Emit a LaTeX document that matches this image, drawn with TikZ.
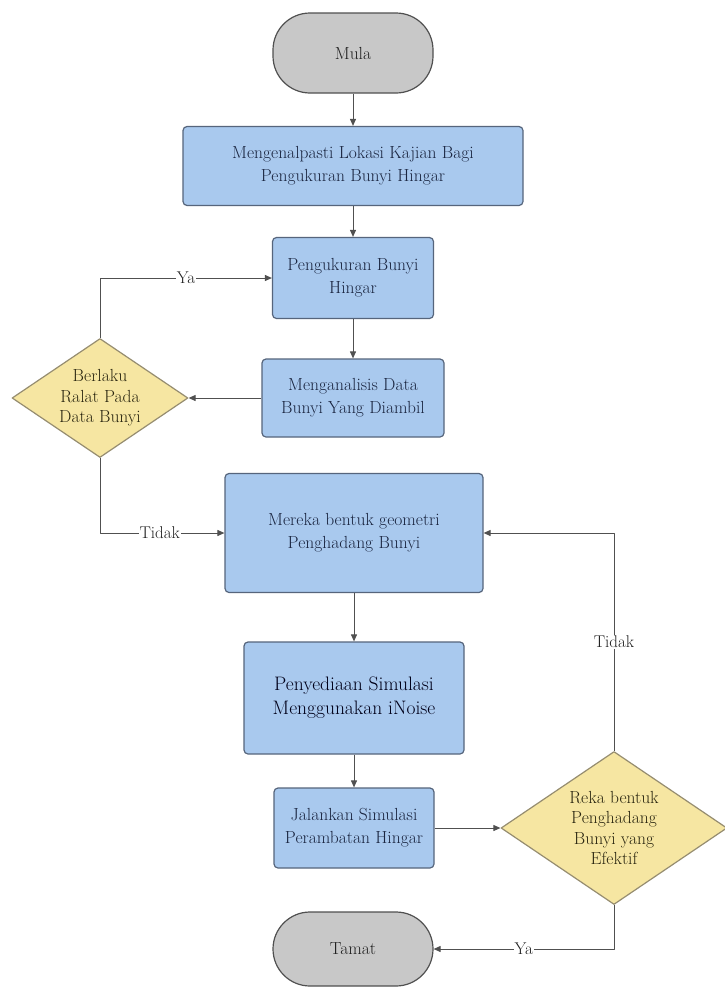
\documentclass[tikz,border=0pt]{standalone}
\usepackage{fontspec}
\usepackage{tikz}
\usetikzlibrary{shapes.geometric,arrows.meta}
\usepackage{color}

\begin{document}
\begin{tikzpicture}
	[x=1pt,y=-1pt,line join=round,
	%Styles
	base/.style={draw=boxline,line width=1.2pt,align=center,inner sep=2pt,
		font=\fontsize{17.5}{23}\selectfont},
	terminal/.style={base,fill=termfill,draw=termline,rounded corners=37pt,
		minimum width=160pt,text=textgrey},
	process/.style={base,fill=procfill,rounded corners=4pt,text=textblue},
	decision/.style={base,diamond,fill=decfill,draw=decline,inner sep=0pt,
		aspect=1.48,text=textolive,font=\fontsize{17.5}{20.5}\selectfont},
	line/.style={draw=linegrey,line width=1pt,->,>={Triangle[length=7pt,width=6pt]}},
	answer/.style={fill=white,inner sep=1pt,text=textgrey,
		font=\fontsize{17}{18}\selectfont}
	]

	%Colors
	\definecolor{procfill}{HTML}{A9C9EE}
	\definecolor{boxline}{HTML}{56657C}
	\definecolor{termfill}{HTML}{C8C8C8}
	\definecolor{termline}{HTML}{505050}
	\definecolor{decfill}{HTML}{F6E6A2}
	\definecolor{decline}{HTML}{968D70}
	\definecolor{linegrey}{HTML}{505050}
	\definecolor{textblue}{HTML}{1A2540}
	\definecolor{textolive}{HTML}{2A2610}
	\definecolor{textgrey}{HTML}{202020}

	\useasboundingbox[fill=white] (0,0) rectangle (725,988);

	%The graphic
	\node[terminal,minimum height=80pt] (mula) at (353,53) {Mula};
	\node[process,minimum width=340pt,minimum height=79pt] (lokasi) at (353,166)
		{Mengenalpasti Lokasi Kajian Bagi\\Pengukuran Bunyi Hingar};
	\node[process,minimum width=161pt,minimum height=81pt] (ukur) at (353,278)
		{Pengukuran Bunyi\\Hingar};
	\node[process,minimum width=182pt,minimum height=78pt] (analisis) at (353,398)
		{Menganalisis Data\\Bunyi Yang Diambil};
	\node[decision,minimum width=176pt,minimum height=119pt] (ralat) at (100,398)
		{Berlaku\\Ralat Pada\\Data Bunyi};
	\node[process,minimum width=258pt,minimum height=119pt] (mereka) at (354,533)
		{Mereka bentuk geometri\\Penghadang Bunyi};
	\node[process,minimum width=220pt,minimum height=112pt,text=black!90!blue,
		font=\fontsize{19.5}{24}\selectfont] (sedia) at (354,698)
		{Penyediaan Simulasi\\Menggunakan iNoise};
	\node[process,minimum width=160pt,minimum height=80pt] (jalan) at (354,828)
		{Jalankan Simulasi\\Perambatan Hingar};
	\node[decision,minimum width=226pt,minimum height=153pt] (reka) at (614,828)
		{Reka bentuk\\Penghadang\\Bunyi yang\\Efektif};
	\node[terminal,minimum height=74pt] (tamat) at (353,949) {Tamat};

	\path[line]
		(mula) -- (lokasi);
	\path[line] (lokasi) -- (ukur);
	\path[line] (ukur) -- (analisis);
	\path[line] (analisis) -- (ralat);
	\path[line] (ralat.north) |- node[answer,pos=0.75] {Ya} (ukur.west);
	\path[line] (ralat.south) |- node[answer,pos=0.74] {Tidak} (mereka.west);
	\path[line] (mereka) -- (sedia);
	\path[line] (sedia) -- (jalan);
	\path[line] (jalan) -- (reka);
	\path[line] (reka.north) |- node[answer,pos=0.25] {Tidak} (mereka.east);
	\path[line] (reka.south) |- node[answer,pos=0.75] {Ya} (tamat.east);
\end{tikzpicture}
\end{document}
